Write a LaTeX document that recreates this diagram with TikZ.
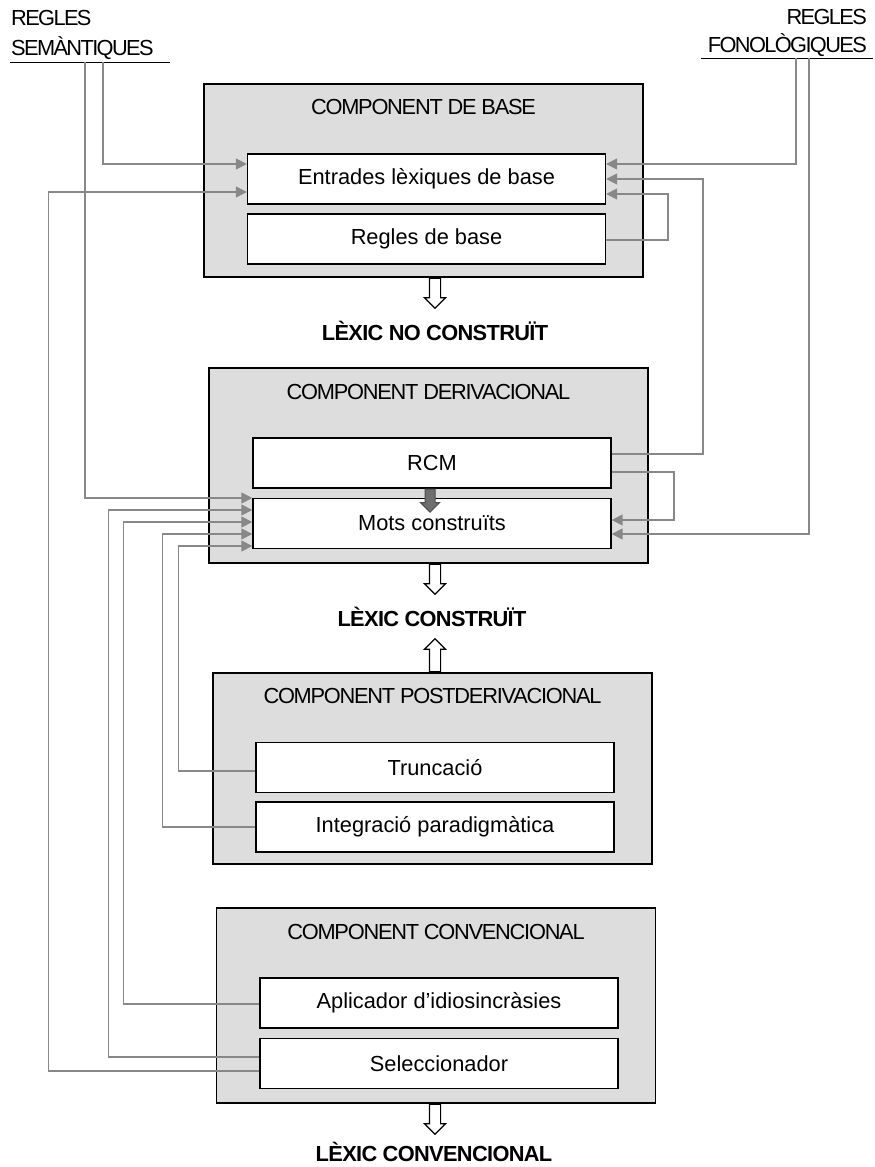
\documentclass[tikz,border=0pt]{standalone}
\usepackage{fontspec}
\setmainfont{Liberation Sans}
\newfontfamily\capsfont[LetterSpace=-5.7]{Liberation Sans}
\newfontfamily\rulesfont[LetterSpace=-7.5]{Liberation Sans}
\newfontfamily\lexfont[LetterSpace=-3]{Liberation Sans}
\usetikzlibrary{arrows.meta,shapes.arrows}
\definecolor{boxgrey}{RGB}{221,221,221}
\definecolor{linkgrey}{RGB}{136,136,136}
\definecolor{rcmgrey}{RGB}{110,110,110}

\begin{document}
\begin{tikzpicture}[x=1pt,y=-1pt,
    every node/.style={font=\fontsize{21.8}{26}\selectfont},
    component/.style={draw, line width=1.4pt, fill=boxgrey, minimum width=439pt, inner sep=0pt},
    module/.style={draw, line width=1.4pt, fill=white, minimum width=358pt, minimum height=50pt, inner sep=0pt},
    compname/.style={inner sep=0pt, font=\fontsize{21.8}{26}\selectfont\capsfont},
    lexlabel/.style={inner sep=0pt, font=\fontsize{21.8}{26}\selectfont\lexfont\bfseries},
    rulelabel/.style={inner sep=0pt, font=\fontsize{21.8}{26}\selectfont\rulesfont},
    link/.style={draw=linkgrey, line width=1.6pt, -{Triangle[length=11pt,width=11pt]}},
    outarrow/.style={single arrow, draw, line width=1.2pt, fill=white, inner sep=5pt,
      minimum width=20pt, single arrow head extend=5pt, minimum height=30pt}]
    \useasboundingbox (0,0) rectangle (875,1167);

    % Rule sets at the top
    \node[rulelabel, anchor=base west] (sem1) at (11,25) {REGLES};
    \node[rulelabel, anchor=base west] (sem2) at (11,55) {SEMÀNTIQUES};
    \draw[line width=1pt] (10,62) -- (170,62);
    \coordinate (semA) at (85,62);
    \coordinate (semB) at (103,62);

    \node[rulelabel, anchor=base east] (fon1) at (867,24) {REGLES};
    \node[rulelabel, anchor=base east] (fon2) at (867,52) {FONOLÒGIQUES};
    \draw[line width=1pt] (701,58) -- (873,58);
    \coordinate (fonA) at (796,58);
    \coordinate (fonB) at (809,58);

    % Component de base
    \node[component, minimum height=193pt] (base) at (423.5,180.5) {};
    \node[compname] (baset) at ([yshift=-24pt]base.north) {COMPONENT DE BASE};
    \node[module] (ent) at (426.5,179) {Entrades lèxiques de base};
    \node[module] (rdb) at (426.5,239) {Regles de base};

    % Component derivacional
    \node[component, minimum height=195pt] (deriv) at (428.5,465.5) {};
    \node[compname] (derivt) at ([yshift=-25pt]deriv.north) {COMPONENT DERIVACIONAL};
    \node[module] (rcm) at (432,463) {RCM};
    \node[module] (mots) at (432,523.5) {Mots construïts};
    \node[outarrow, fill=rcmgrey, draw=black!70, line width=1pt, rotate=-90, anchor=tail,
      inner sep=4.5pt, minimum width=18pt, single arrow head extend=4.5pt, minimum height=23pt]
      (rcmout) at ([xshift=-2pt]rcm.south) {};

    % Component postderivacional
    \node[component, minimum height=191pt] (post) at (432.5,768.5) {};
    \node[compname] (postt) at ([yshift=-24pt]post.north) {COMPONENT POSTDERIVACIONAL};
    \node[module] (trunc) at (435,767.5) {Truncació};
    \node[module] (integ) at (435,827) {Integració paradigmàtica};

    % Component convencional
    \node[component, minimum height=195pt] (conv) at (436,1005.5) {};
    \node[compname] (convt) at ([yshift=-25pt]conv.north) {COMPONENT CONVENCIONAL};
    \node[module] (aplic) at (439,1003) {Aplicador d’idiosincràsies};
    \node[module] (sel) at (439,1063.5) {Seleccionador};

    % Outputs
    \node[outarrow, rotate=-90, anchor=tail] (out1) at ([xshift=11.5pt]base.south) {};
    \node[lexlabel] (lex1) at (435,331) {LÈXIC NO CONSTRUÏT};
    \node[outarrow, rotate=-90, anchor=tail] (out2) at ([xshift=6.5pt]deriv.south) {};
    \node[lexlabel] (lex2) at (432,617) {LÈXIC CONSTRUÏT};
    \node[outarrow, rotate=90, anchor=tail, minimum height=33pt] (out3) at ([xshift=2.5pt]post.north) {};
    \node[outarrow, rotate=-90, anchor=tail] (out4) at ([xshift=-1pt]conv.south) {};
    \node[lexlabel] (lex4) at (434,1151.5) {LÈXIC CONVENCIONAL};

    % Links on the left
    \draw[link] (semB) |- ([yshift=15pt]ent.west);
    \draw[link] (semA) |- ([yshift=25.5pt]mots.west);
    \draw[link] ([yshift=-7.5pt]sel.west) -- ++(-211,0) |- ([yshift=-13pt]ent.west);
    \draw[link] ([yshift=6.5pt]sel.west) -- ++(-151,0) |- ([yshift=13.5pt]mots.west);
    \draw[link] ([yshift=-1pt]aplic.west) -- ++(-136,0) |- ([yshift=1.5pt]mots.west);
    \draw[link] (integ.west) -- ++(-93,0) |- ([yshift=-10.5pt]mots.west);
    \draw[link] ([yshift=-3.5pt]trunc.west) -- ++(-77,0) |- ([yshift=-22.5pt]mots.west);

    % Links on the right
    \draw[link] (fonA) |- ([yshift=15pt]ent.east);
    \draw[link] (fonB) |- ([yshift=-10.5pt]mots.east);
    \draw[link] ([yshift=-1pt]rdb.east) -- ++(61.5,0) |- ([yshift=-15pt]ent.east);
    \draw[link] ([yshift=9pt]rcm.east) -- ++(91,0) |- (ent.east);
    \draw[link] ([yshift=-9pt]rcm.east) -- ++(62,0) |- ([yshift=3.5pt]mots.east);
\end{tikzpicture}
\end{document}
